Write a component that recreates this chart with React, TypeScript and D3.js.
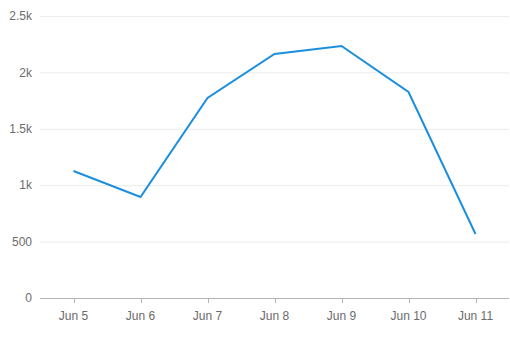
import React from "react";
import * as d3 from "d3";

const categories = ["Jun 5", "Jun 6", "Jun 7", "Jun 8", "Jun 9", "Jun 10", "Jun 11"];
const values = [1126, 895, 1773, 2163, 2234, 1826, 567];
const yTicks = [0, 500, 1000, 1500, 2000, 2500];
const yTickLabels = ["0", "500", "1k", "1.5k", "2k", "2.5k"];

const W = 510;
const H = 351;
const left = 40;
const right = 509;
const top = 16;
const bottom = 298;

export default function App() {
  const x = d3.scaleBand<string>().domain(categories).range([left, right]);
  const y = d3.scaleLinear().domain([0, 2500]).range([bottom, top]);
  const cx = (c: string) => (x(c) as number) + x.bandwidth() / 2;
  const line = d3
    .line<number>()
    .x((_, i) => cx(categories[i]))
    .y((d) => y(d));
  const font = "'Liberation Sans', Arial, sans-serif";
  return (
    <svg
      width={W}
      height={H}
      style={{ position: "absolute", left: 0, top: 0, display: "block", background: "#fff" }}
    >
      {yTicks.map((t, i) => (
        <g key={t}>
          {t !== 0 && (
            <line x1={left} x2={right} y1={y(t) + 0.5} y2={y(t) + 0.5} stroke="#ececec" strokeWidth={1} />
          )}
          <text
            x={32}
            y={y(t)}
            dy="0.35em"
            textAnchor="end"
            fontFamily={font}
            fontSize={12}
            fill="#6b6b6b"
          >
            {yTickLabels[i]}
          </text>
        </g>
      ))}
      <line x1={left} x2={right} y1={bottom + 0.5} y2={bottom + 0.5} stroke="#b5b5b5" strokeWidth={1} />
      {categories.map((c) => (
        <g key={c}>
          <line x1={Math.round(cx(c)) + 0.5} x2={Math.round(cx(c)) + 0.5} y1={bottom} y2={bottom + 5} stroke="#b5b5b5" />
          <text
            x={cx(c)}
            y={320}
            textAnchor="middle"
            fontFamily={font}
            fontSize={12}
            fill="#6b6b6b"
          >
            {c}
          </text>
        </g>
      ))}
      <path d={line(values) || ""} fill="none" stroke="#1b8fdd" strokeWidth={2} strokeLinejoin="miter" />
    </svg>
  );
}
